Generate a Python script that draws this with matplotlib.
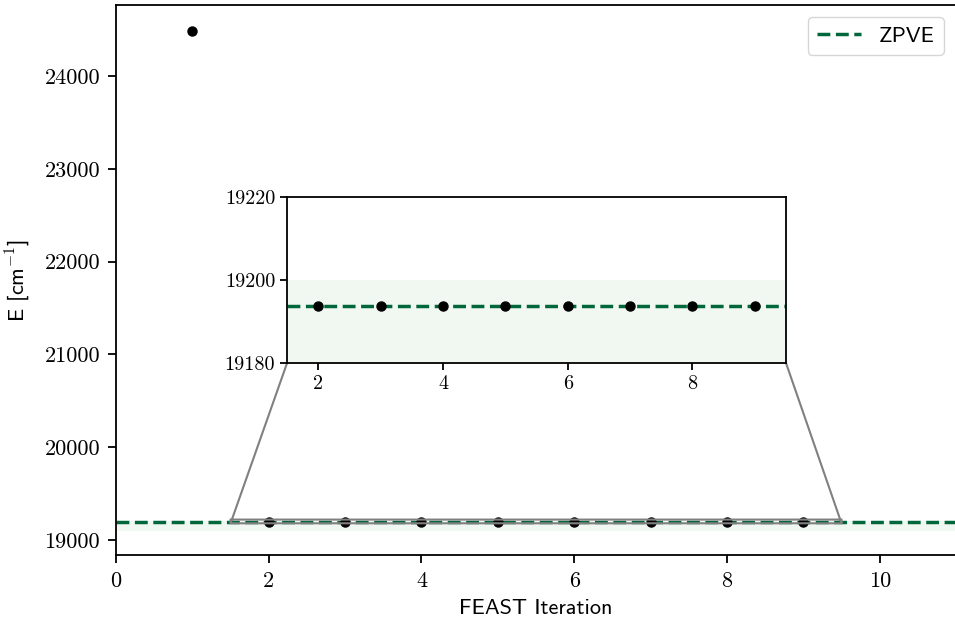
import matplotlib
matplotlib.use('Agg')
import matplotlib.pyplot as plt

# data
iterations = [1, 2, 3, 4, 5, 6, 7, 8, 9]
energies = [24480, 19193.7, 19193.7, 19193.7, 19193.7,
            19193.7, 19193.7, 19193.7, 19193.7]
zpve = 19193.7
band_lo, band_hi = 19100, 19200

main_xticks = [0, 2, 4, 6, 8, 10]
main_yticks = [19000, 20000, 21000, 22000, 23000, 24000]
ins_xticks = [2, 4, 6, 8]
ins_yticks = [19180, 19200, 19220]

green = '#00673a'
band_color = '#f1f8f2'

plt.rcParams['font.family'] = 'cmss10'
plt.rcParams['axes.unicode_minus'] = False
plt.rcParams['mathtext.fontset'] = 'cm'
plt.rcParams['axes.linewidth'] = 1.3


def draw(ax, legend=False):
    ax.axhspan(band_lo, band_hi, color=band_color, lw=0, zorder=0)
    ax.axhline(zpve, color=green, ls='--', lw=2.5, zorder=2,
               label='ZPVE' if legend else None)
    ax.plot(iterations, energies, 'o', color='black', ms=6.5, zorder=3)


fig = plt.figure(figsize=(9.55, 6.18), dpi=100)
ax = fig.add_axes([0.1215, 0.1019, 0.8796, 0.89])
draw(ax, legend=True)
ax.set_xlim(0, 11)
ax.set_ylim(18838, 24765)
ax.set_xticks(main_xticks)
ax.set_xticklabels([str(v) for v in main_xticks], fontfamily='cmr10', fontsize=16)
ax.set_yticks(main_yticks)
ax.set_yticklabels([str(v) for v in main_yticks], fontfamily='cmr10', fontsize=16)
ax.tick_params(width=1.3, length=5.5)
ax.tick_params(axis='x', pad=6)
ax.tick_params(axis='y', pad=6)
ax.set_xlabel('FEAST Iteration', fontsize=16, labelpad=6)
ax.set_ylabel('E [cm$^{-1}$]', fontsize=16, labelpad=9)
ax.spines['right'].set_visible(False)
leg = ax.legend(loc='upper right', fontsize=16, fancybox=True,
                borderaxespad=0.55, bbox_to_anchor=(1.0, 1.0))

axins = ax.inset_axes([0.2036, 0.349, 0.594, 0.302])
draw(axins)
axins.set_xlim(1.5, 9.5)
axins.set_ylim(19180, 19220)
axins.set_xticks(ins_xticks)
axins.set_xticklabels([str(v) for v in ins_xticks], fontfamily='cmr10', fontsize=14.5)
axins.set_yticks(ins_yticks)
axins.set_yticklabels([str(v) for v in ins_yticks], fontfamily='cmr10', fontsize=14.5)
axins.tick_params(width=1.3, length=5)
ind = ax.indicate_inset_zoom(axins, edgecolor='gray', alpha=1, linewidth=1.5)
# keep only the lower-left and lower-right connectors
for i, con in enumerate(ind.connectors):
    con.set_visible(i in (0, 2))

fig.savefig('out.png', dpi=100)
